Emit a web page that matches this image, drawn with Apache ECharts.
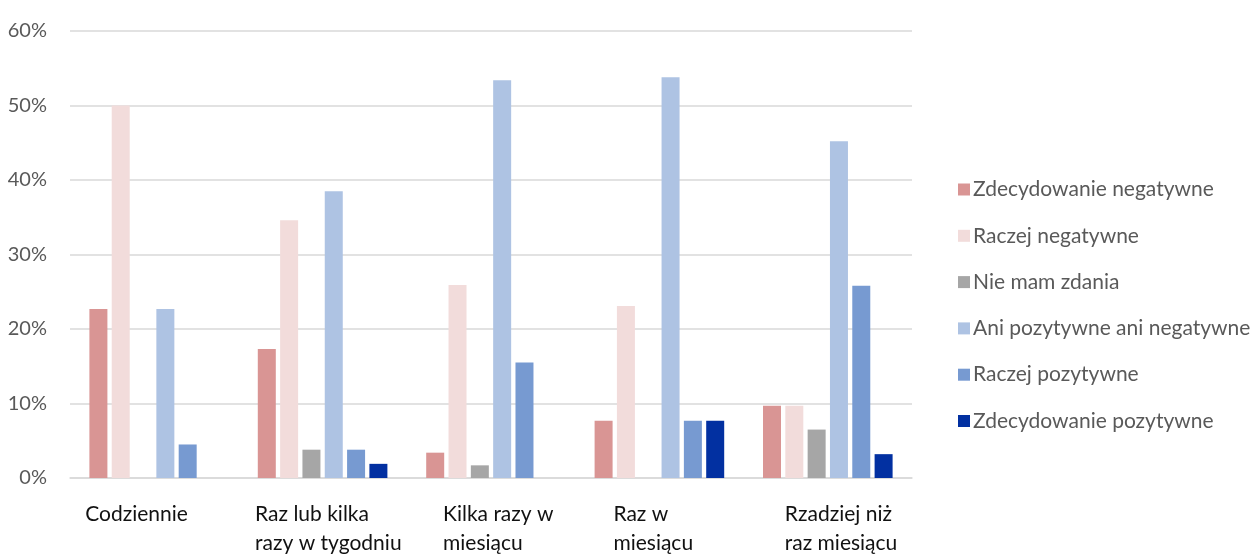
<!DOCTYPE html>
<html>
<head>
<meta charset="utf-8">
<script src="https://cdn.jsdelivr.net/npm/echarts@6/dist/echarts.min.js"></script>
<style>html,body{margin:0;padding:0;background:#fff}#c{width:1258px;height:554px}</style>
</head>
<body>
<div id="c"></div>
<script>
const categories = ['Codziennie', 'Raz lub kilka\nrazy w tygodniu', 'Kilka razy w\nmiesiącu', 'Raz w\nmiesiącu', 'Rzadziej niż\nraz miesiącu'];
const seriesNames = ['Zdecydowanie negatywne', 'Raczej negatywne', 'Nie mam zdania', 'Ani pozytywne ani negatywne', 'Raczej pozytywne', 'Zdecydowanie pozytywne'];
const zdecydowanieNegatywne = [22.7, 17.3, 3.4, 7.7, 9.7];
const raczejNegatywne = [50.0, 34.6, 25.9, 23.1, 9.7];
const nieMamZdania = [0, 3.8, 1.7, 0, 6.5];
const aniPozAniNeg = [22.7, 38.5, 53.4, 53.8, 45.2];
const raczejPozytywne = [4.5, 3.8, 15.5, 7.7, 25.8];
const zdecydowaniePozytywne = [0, 1.9, 0, 7.7, 3.2];
const yTicks = [0, 10, 20, 30, 40, 50, 60];

const values = [zdecydowanieNegatywne, raczejNegatywne, nieMamZdania, aniPozAniNeg, raczejPozytywne, zdecydowaniePozytywne];
const colors = ['#D99594', '#F2DCDB', '#A6A6A6', '#AEC3E3', '#779AD1', '#0230A1'];
const FONT = 'Lato';
const labelWidths = [138, 135, 96, 92, 86];
const rich = {};
labelWidths.forEach((w, i) => {
  rich['c' + i] = { width: w, align: 'left', fontFamily: FONT, fontSize: 21, color: '#111', lineHeight: 29 };
});

const chart = echarts.init(document.getElementById('c'), null, { renderer: 'canvas' });
chart.setOption({
  animation: false,
  backgroundColor: '#fff',
  textStyle: { fontFamily: FONT },
  grid: { left: 70, right: 346, top: 31, bottom: 74.5, containLabel: false },
  legend: {
    orient: 'vertical',
    left: 953,
    top: 174,
    itemWidth: 12,
    itemHeight: 12,
    itemGap: 25.3,
    icon: 'rect',
    textStyle: { fontFamily: FONT, fontSize: 21, color: '#595959', padding: [0, 0, 0, -2] },
    data: seriesNames
  },
  xAxis: {
    type: 'category',
    data: categories,
    axisLine: { show: true, lineStyle: { color: '#D9D9D9', width: 1.5 } },
    axisTick: { show: false },
    axisLabel: {
      interval: 0,
      margin: 22,
      align: 'center',
      verticalAlign: 'top',
      formatter: (v, i) => v.split('\n').map(l => '{c' + i + '|' + l + '}').join('\n'),
      rich: rich
    }
  },
  yAxis: {
    type: 'value',
    min: yTicks[0],
    max: yTicks[yTicks.length - 1],
    interval: 10,
    axisLine: { show: false },
    axisTick: { show: false },
    splitLine: { lineStyle: { color: '#D9D9D9', width: 1.5 } },
    axisLabel: { formatter: '{value}%', margin: 23, fontFamily: FONT, fontSize: 20, color: '#595959' }
  },
  series: seriesNames.map((n, i) => ({
    name: n,
    type: 'bar',
    data: values[i],
    barWidth: 18,
    barGap: '24%',
    itemStyle: { color: colors[i] }
  }))
});
</script>
</body>
</html>
